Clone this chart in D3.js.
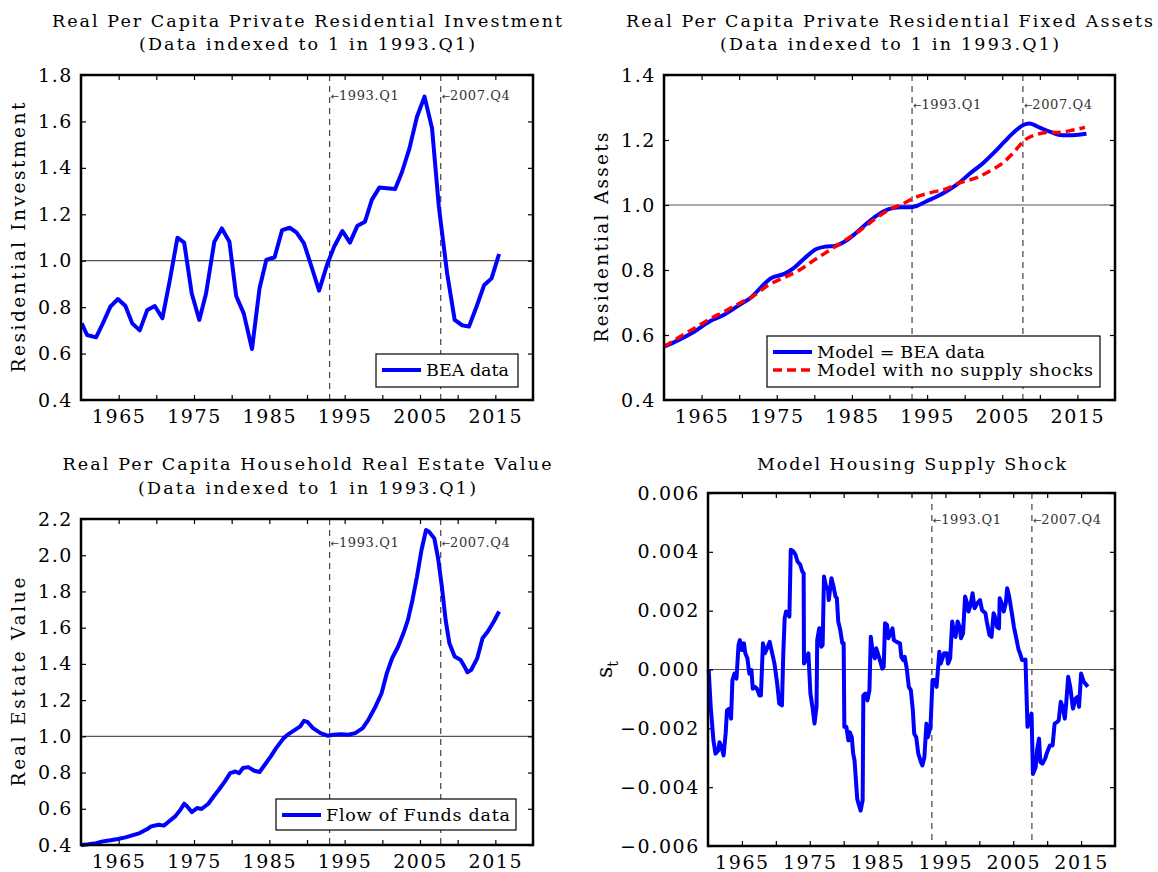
<!DOCTYPE html>
<html>
<head>
<meta charset="utf-8">
<script src="https://cdn.jsdelivr.net/npm/d3@7"></script>
<style>
  body { margin: 0; background: #fff; }
  svg text { font-family: "DejaVu Serif", serif; }
</style>
</head>
<body>
<svg id="chart" width="1158" height="872"></svg>
<script>
// ---- data ----
var invYears = [1960.1, 1960.8, 1962.0, 1962.9, 1963.9, 1964.9, 1965.9, 1966.8, 1967.8, 1968.8,
    1969.8, 1970.8, 1971.8, 1972.8, 1973.7, 1974.7, 1975.7, 1976.6, 1977.7, 1978.7,
    1979.7, 1980.6, 1981.6, 1982.7, 1983.7, 1984.6, 1985.7, 1986.7, 1987.7, 1988.6,
    1989.6, 1990.6, 1991.6, 1992.7, 1993.6, 1994.7, 1995.7, 1996.7, 1997.7, 1998.6,
    1999.6, 2000.6, 2001.7, 2002.6, 2003.6, 2004.6, 2005.6, 2006.6, 2007.5, 2008.6,
    2009.6, 2010.6, 2011.5, 2012.5, 2013.5, 2014.5, 2015.5];
var invValues = [0.730, 0.680, 0.670, 0.730, 0.802, 0.835, 0.805, 0.730, 0.700, 0.788,
    0.805, 0.752, 0.917, 1.099, 1.078, 0.859, 0.745, 0.859, 1.082, 1.139,
    1.082, 0.848, 0.773, 0.620, 0.881, 1.003, 1.015, 1.132, 1.142, 1.122,
    1.075, 0.974, 0.871, 0.986, 1.060, 1.128, 1.078, 1.151, 1.168, 1.262,
    1.315, 1.312, 1.309, 1.381, 1.484, 1.620, 1.707, 1.570, 1.233, 0.946,
    0.745, 0.722, 0.716, 0.802, 0.894, 0.924, 1.029];

var assetYears = [1960, 1962, 1964, 1966, 1968, 1970, 1971.7, 1973, 1974.2, 1976,
    1977.2, 1978.7, 1980.2, 1981.5, 1982.7, 1984, 1985.5, 1987, 1988.4, 1989.9,
    1991.4, 1992.6, 1993.6, 1994.8, 1996.3, 1997.7, 1999.2, 2000.7, 2002.4, 2003.9,
    2005.3, 2006.8, 2007.8, 2008.6, 2010, 2011.5, 2013, 2014.4, 2016.2];
var assetValues = [0.564, 0.585, 0.610, 0.641, 0.662, 0.692, 0.718, 0.749, 0.774, 0.788,
    0.805, 0.836, 0.864, 0.872, 0.874, 0.887, 0.913, 0.944, 0.969, 0.987,
    0.993, 0.993, 0.997, 1.010, 1.026, 1.044, 1.067, 1.097, 1.128, 1.161,
    1.195, 1.229, 1.246, 1.251, 1.238, 1.224, 1.215, 1.215, 1.219];

var noShockYears = [1960, 1962, 1964, 1966, 1968, 1970, 1971.9, 1973.9, 1976, 1977.9,
    1979.9, 1981.9, 1984, 1986, 1987.9, 1989.9, 1991.9, 1993.4, 1995.5, 1997.7,
    1999.2, 2001.7, 2003.6, 2005.1, 2006.6, 2008, 2009.3, 2011, 2012.4, 2013.9, 2016];
var noShockValues = [0.564, 0.593, 0.620, 0.648, 0.672, 0.697, 0.720, 0.754, 0.777, 0.798,
    0.829, 0.859, 0.890, 0.920, 0.954, 0.985, 1.005, 1.023, 1.038, 1.051,
    1.067, 1.085, 1.108, 1.130, 1.164, 1.200, 1.215, 1.223, 1.223, 1.228, 1.239];

var reYears = [1960.0, 1961.0, 1962.0, 1962.9, 1963.9, 1964.9, 1965.9, 1966.8, 1967.8, 1968.8,
    1969.3, 1970.3, 1971.0, 1971.7, 1972.5, 1973.2, 1973.7, 1974.1, 1974.7, 1975.4,
    1976.0, 1976.9, 1977.6, 1978.3, 1979.1, 1979.8, 1980.5, 1981.0, 1981.5, 1982.2,
    1983.0, 1983.7, 1984.4, 1985.2, 1985.9, 1986.9, 1987.6, 1988.4, 1989.1, 1989.6,
    1990.1, 1990.8, 1991.8, 1992.8, 1993.5, 1994.5, 1995.5, 1996.4, 1997.4, 1998.1,
    1999.1, 1999.9, 2000.6, 2001.3, 2002.1, 2002.8, 2003.4, 2004.0, 2004.6, 2005.2,
    2005.8, 2006.2, 2006.9, 2007.4, 2007.9, 2008.4, 2008.9, 2009.6, 2010.4, 2010.9,
    2011.3, 2011.8, 2012.6, 2013.3, 2014.0, 2014.8, 2015.5];
var reValues = [0.400, 0.404, 0.410, 0.420, 0.426, 0.433, 0.442, 0.453, 0.466, 0.488,
    0.503, 0.512, 0.507, 0.531, 0.558, 0.595, 0.628, 0.613, 0.582, 0.604,
    0.599, 0.628, 0.668, 0.705, 0.751, 0.797, 0.806, 0.797, 0.825, 0.830,
    0.810, 0.803, 0.843, 0.889, 0.935, 0.990, 1.014, 1.036, 1.055, 1.086,
    1.078, 1.045, 1.018, 1.003, 1.009, 1.012, 1.009, 1.018, 1.045, 1.088,
    1.165, 1.238, 1.349, 1.431, 1.496, 1.569, 1.643, 1.753, 1.882, 2.029,
    2.139, 2.130, 2.093, 1.983, 1.827, 1.643, 1.514, 1.441, 1.422, 1.386,
    1.354, 1.367, 1.431, 1.542, 1.579, 1.634, 1.689];

var shockYears = [1960.1, 1960.4, 1960.8, 1961.1, 1961.5, 1961.7, 1962.0, 1962.3, 1962.6, 1962.8,
    1963.1, 1963.4, 1963.6, 1963.9, 1964.2, 1964.5, 1964.7, 1965.0, 1965.3, 1965.5,
    1965.8, 1966.1, 1966.4, 1966.6, 1966.9, 1967.2, 1967.6, 1967.8, 1968.1, 1968.4,
    1968.8, 1969.1, 1969.3, 1969.8, 1970.2, 1970.5, 1970.9, 1971.1, 1971.3, 1971.5,
    1972.0, 1972.2, 1972.6, 1972.9, 1973.2, 1973.6, 1973.9, 1974.1, 1974.15, 1974.3,
    1974.8, 1975.1, 1975.4, 1975.7, 1976.0, 1976.1, 1976.4, 1976.7, 1976.9, 1977.1,
    1977.4, 1977.7, 1977.8, 1978.2, 1978.5, 1978.8, 1979.0, 1979.2, 1979.5, 1979.8,
    1980.0, 1980.1, 1980.4, 1980.7, 1980.9, 1981.2, 1981.4, 1981.6, 1982.0, 1982.2,
    1982.5, 1982.8, 1982.9, 1983.2, 1983.5, 1983.8, 1984.0, 1984.3, 1984.6, 1984.8,
    1985.2, 1985.7, 1985.9, 1986.1, 1986.4, 1986.6, 1986.9, 1987.2, 1987.4, 1987.8,
    1988.3, 1988.5, 1988.8, 1989.0, 1989.3, 1989.6, 1989.9, 1990.2, 1990.4, 1990.7,
    1991.0, 1991.4, 1991.6, 1991.9, 1992.2, 1992.4, 1992.8, 1993.1, 1993.4, 1993.7,
    1994.1, 1994.3, 1994.8, 1995.2, 1995.4, 1995.7, 1996.0, 1996.3, 1996.5, 1996.8,
    1997.1, 1997.3, 1997.6, 1997.9, 1998.2, 1998.4, 1998.7, 1999.0, 1999.3, 1999.7,
    2000.1, 2000.4, 2000.9, 2001.1, 2001.5, 2001.8, 2002.1, 2002.3, 2002.6, 2002.9,
    2003.0, 2003.3, 2003.6, 2003.9, 2004.1, 2004.4, 2004.8, 2005.1, 2005.5, 2005.8,
    2006.0, 2006.3, 2006.6, 2006.8, 2007.1, 2007.4, 2007.7, 2007.9, 2008.3, 2008.5,
    2008.8, 2009.0, 2009.3, 2009.7, 2010.0, 2010.4, 2010.8, 2011.1, 2011.5, 2011.7,
    2012.0, 2012.3, 2012.6, 2012.8, 2013.1, 2013.4, 2013.8, 2014.2, 2014.5, 2014.7,
    2015.0, 2015.4, 2016.0];
var shockValues = [0.00000, -0.00127, -0.00241, -0.00286, -0.00275, -0.00247, -0.00264, -0.00292, -0.00218, -0.00139,
    -0.00134, -0.00167, -0.00036, -0.00014, -0.00031, 0.00083, 0.00100, 0.00066, 0.00089, 0.00055,
    0.00038, -0.00014, -0.00002, -0.00065, -0.00059, -0.00065, -0.00088, -0.00088, 0.00089, 0.00055,
    0.00077, 0.00094, 0.00072, 0.00020, -0.00048, -0.00116, -0.00122, 0.00055, 0.00174, 0.00197,
    0.00180, 0.00407, 0.00401, 0.00390, 0.00367, 0.00356, 0.00333, 0.00327, 0.00020, 0.00026,
    0.00055, -0.00082, -0.00127, -0.00184, -0.00127, 0.00100, 0.00140, 0.00077, 0.00083, 0.00316,
    0.00282, 0.00270, 0.00236, 0.00310, 0.00282, 0.00248, 0.00242, 0.00163, 0.00134, 0.00089,
    0.00089, -0.00195, -0.00195, -0.00241, -0.00213, -0.00230, -0.00286, -0.00309, -0.00440, -0.00457,
    -0.00480, -0.00445, -0.00088, -0.00082, -0.00105, -0.00070, 0.00111, 0.00055, 0.00038, 0.00072,
    0.00043, 0.00003, 0.00009, 0.00157, 0.00151, 0.00106, 0.00123, 0.00140, 0.00100, 0.00094,
    0.00089, 0.00043, 0.00032, 0.00043, 0.00003, -0.00059, -0.00070, -0.00139, -0.00218, -0.00230,
    -0.00286, -0.00315, -0.00326, -0.00298, -0.00184, -0.00230, -0.00195, -0.00036, -0.00036, -0.00059,
    0.00060, 0.00020, 0.00055, 0.00055, 0.00020, 0.00038, 0.00163, 0.00117, 0.00111, 0.00163,
    0.00145, 0.00106, 0.00123, 0.00248, 0.00225, 0.00197, 0.00219, 0.00259, 0.00208, 0.00225,
    0.00236, 0.00202, 0.00191, 0.00163, 0.00117, 0.00111, 0.00191, 0.00180, 0.00145, 0.00140,
    0.00242, 0.00225, 0.00197, 0.00225, 0.00276, 0.00248, 0.00191, 0.00145, 0.00100, 0.00066,
    0.00055, 0.00032, 0.00032, 0.00034, -0.00195, -0.00173, -0.00150, -0.00355, -0.00332, -0.00275,
    -0.00235, -0.00315, -0.00320, -0.00303, -0.00281, -0.00258, -0.00258, -0.00184, -0.00178, -0.00173,
    -0.00110, -0.00127, -0.00167, -0.00116, -0.00025, -0.00059, -0.00133, -0.00099, -0.00093, -0.00127,
    -0.00014, -0.00042, -0.00059];

var xTickYears = [1965, 1970, 1975, 1980, 1985, 1990, 1995, 2000, 2005, 2010, 2015];
var xLabelYears = [1965, 1975, 1985, 1995, 2005, 2015];
var markerYears = [1993.0, 2007.75];
var markerLabels = ["1993.Q1", "2007.Q4"];
var invTicks = [0.4, 0.6, 0.8, 1.0, 1.2, 1.4, 1.6, 1.8];
var assetTicks = [0.4, 0.6, 0.8, 1.0, 1.2, 1.4];
var reTicks = [0.4, 0.6, 0.8, 1.0, 1.2, 1.4, 1.6, 1.8, 2.0, 2.2];
var shockTicks = [-0.006, -0.004, -0.002, 0, 0.002, 0.004, 0.006];

var svg = d3.select("#chart");

function drawPanel(p) {
    var x = d3.scaleLinear().domain([1960, 2020]).range([p.left, p.right]);
    var y = d3.scaleLinear().domain(p.yDomain).range([p.bottom, p.top]);
    var g = svg.append("g");

    // titles
    p.titles.forEach(function (t, i) {
        g.append("text")
            .attr("x", (p.left + p.right) / 2)
            .attr("y", p.titleY[i])
            .attr("text-anchor", "middle")
            .attr("textLength", p.titleW[i])
            .attr("lengthAdjust", "spacing")
            .style("font-size", "17.5px")
            .text(t);
    });

    // horizontal reference line
    g.append("line")
        .attr("x1", p.left).attr("x2", p.right)
        .attr("y1", y(p.refY)).attr("y2", y(p.refY))
        .attr("stroke", "#555").attr("stroke-width", 1.2);

    // dashed date markers
    markerYears.forEach(function (m, i) {
        g.append("line")
            .attr("x1", x(m)).attr("x2", x(m))
            .attr("y1", p.top).attr("y2", p.bottom)
            .attr("stroke", "#444").attr("stroke-width", 1.2)
            .attr("stroke-dasharray", "6,5");
        var t = g.append("text")
            .attr("x", x(m) + 1)
            .attr("y", p.top + p.markY)
            .attr("fill", "#333")
            .style("font-size", "13px");
        t.append("tspan").style("font-family", "'DejaVu Sans', sans-serif")
            .style("font-size", "10px").text("\u2190");
        t.append("tspan").attr("letter-spacing", 0.6).text(markerLabels[i]);
    });

    // axes, ticks pointing inward
    var fmtX = function (d) { return xLabelYears.indexOf(d) >= 0 ? d : ""; };
    g.append("g").attr("transform", "translate(0," + p.bottom + ")")
        .call(d3.axisBottom(x).tickValues(xTickYears).tickSize(-5).tickPadding(10).tickFormat(fmtX));
    g.append("g").attr("transform", "translate(0," + p.top + ")")
        .call(d3.axisTop(x).tickValues(xTickYears).tickSize(-5).tickFormat(""));
    g.append("g").attr("transform", "translate(" + p.left + ",0)")
        .call(d3.axisLeft(y).tickValues(p.yTicks).tickSize(-5).tickPadding(8).tickFormat(d3.format(p.yFmt)));
    g.append("g").attr("transform", "translate(" + p.right + ",0)")
        .call(d3.axisRight(y).tickValues(p.yTicks).tickSize(-5).tickFormat(""));
    g.selectAll(".domain").remove();
    g.selectAll(".tick line").attr("stroke", "#000").attr("stroke-width", 1.2);
    g.selectAll(".tick text")
        .attr("fill", "#000")
        .attr("letter-spacing", 1.6)
        .style("font-family", "'DejaVu Serif', serif")
        .style("font-size", "19px");

    // y label
    var yl = g.append("text")
        .attr("transform", "translate(" + p.ylabelX + "," + (p.top + p.bottom) / 2 + ")rotate(-90)")
        .attr("text-anchor", "middle");
    if (p.ylabel === "s_t") {
        yl.style("font-size", "22px");
        yl.append("tspan").text("s");
        yl.append("tspan").attr("dy", 6).style("font-size", "14px").text("t");
    } else {
        yl.attr("textLength", p.ylabelW).attr("lengthAdjust", "spacing")
            .style("font-size", "18.5px")
            .text(p.ylabel);
    }

    // series
    p.series.forEach(function (s) {
        var pts = d3.zip(s.years, s.values);
        var line = d3.line()
            .x(function (d) { return x(d[0]); })
            .y(function (d) { return y(d[1]); })
            .curve(s.smooth ? d3.curveMonotoneX : d3.curveLinear);
        g.append("path")
            .datum(pts)
            .attr("d", line)
            .attr("fill", "none")
            .attr("stroke", s.color)
            .attr("stroke-width", s.width)
            .attr("stroke-linejoin", "round")
            .attr("stroke-dasharray", s.dash || null);
    });

    // legend
    if (p.legend) {
        var L = p.legend;
        g.append("rect")
            .attr("x", L.x).attr("y", L.y)
            .attr("width", L.w).attr("height", L.h)
            .attr("fill", "#fff").attr("stroke", "#000").attr("stroke-width", 1.2);
        L.rows.forEach(function (r, i) {
            var s = p.series[i];
            var ry = L.y + L.rowY[i];
            g.append("line")
                .attr("x1", L.x + 6).attr("x2", L.x + 45)
                .attr("y1", ry).attr("y2", ry)
                .attr("stroke", s.color).attr("stroke-width", s.width)
                .attr("stroke-dasharray", s.dash || null);
            g.append("text")
                .attr("x", L.x + 50).attr("y", ry + 6)
                .attr("textLength", r.w).attr("lengthAdjust", "spacing")
                .style("font-size", "17.5px")
                .text(r.label);
        });
    }

    // frame
    g.append("rect")
        .attr("x", p.left).attr("y", p.top)
        .attr("width", p.right - p.left).attr("height", p.bottom - p.top)
        .attr("fill", "none").attr("stroke", "#000").attr("stroke-width", 2.5);
}

drawPanel({
    left: 81, right: 533, top: 75, bottom: 400,
    yDomain: [0.4, 1.8], yTicks: invTicks, yFmt: ".1f", refY: 1, markY: 25,
    titles: ["Real Per Capita Private Residential Investment", "(Data indexed to 1 in 1993.Q1)"],
    titleY: [27, 50], titleW: [510, 336],
    ylabel: "Residential Investment", ylabelX: 25, ylabelW: 270,
    series: [{years: invYears, values: invValues, color: "#0000ff", width: 4}],
    legend: {x: 376, y: 354, w: 142, h: 33, rowY: [16], rows: [{label: "BEA data", w: 83}]}
});

drawPanel({
    left: 664, right: 1115, top: 75, bottom: 400,
    yDomain: [0.4, 1.4], yTicks: assetTicks, yFmt: ".1f", refY: 1, markY: 34,
    titles: ["Real Per Capita Private Residential Fixed Assets", "(Data indexed to 1 in 1993.Q1)"],
    titleY: [27, 50], titleW: [527, 339],
    ylabel: "Residential Assets", ylabelX: 608, ylabelW: 210,
    series: [
        {years: assetYears, values: assetValues, color: "#0000ff", width: 4, smooth: true},
        {years: noShockYears, values: noShockValues, color: "#ff0000", width: 3.5, smooth: true, dash: "9,5"}
    ],
    legend: {x: 767, y: 336, w: 333, h: 51, rowY: [16, 34],
        rows: [{label: "Model = BEA data", w: 168}, {label: "Model with no supply shocks", w: 276}]}
});

drawPanel({
    left: 81, right: 533, top: 519, bottom: 845,
    yDomain: [0.4, 2.2], yTicks: reTicks, yFmt: ".1f", refY: 1, markY: 28,
    titles: ["Real Per Capita Household Real Estate Value", "(Data indexed to 1 in 1993.Q1)"],
    titleY: [470, 494], titleW: [489, 338],
    ylabel: "Real Estate Value", ylabelX: 25, ylabelW: 209,
    series: [{years: reYears, values: reValues, color: "#0000ff", width: 4}],
    legend: {x: 276, y: 799, w: 240, h: 31, rowY: [16], rows: [{label: "Flow of Funds data", w: 184}]}
});

drawPanel({
    left: 708, right: 1115, top: 493, bottom: 846,
    yDomain: [-0.006, 0.006], yTicks: shockTicks, yFmt: ".3f", refY: 0, markY: 31,
    titles: ["Model Housing Supply Shock"],
    titleY: [470], titleW: [309],
    ylabel: "s_t", ylabelX: 612,
    series: [{years: shockYears, values: shockValues, color: "#0000ff", width: 4}]
});
</script>
</body>
</html>
